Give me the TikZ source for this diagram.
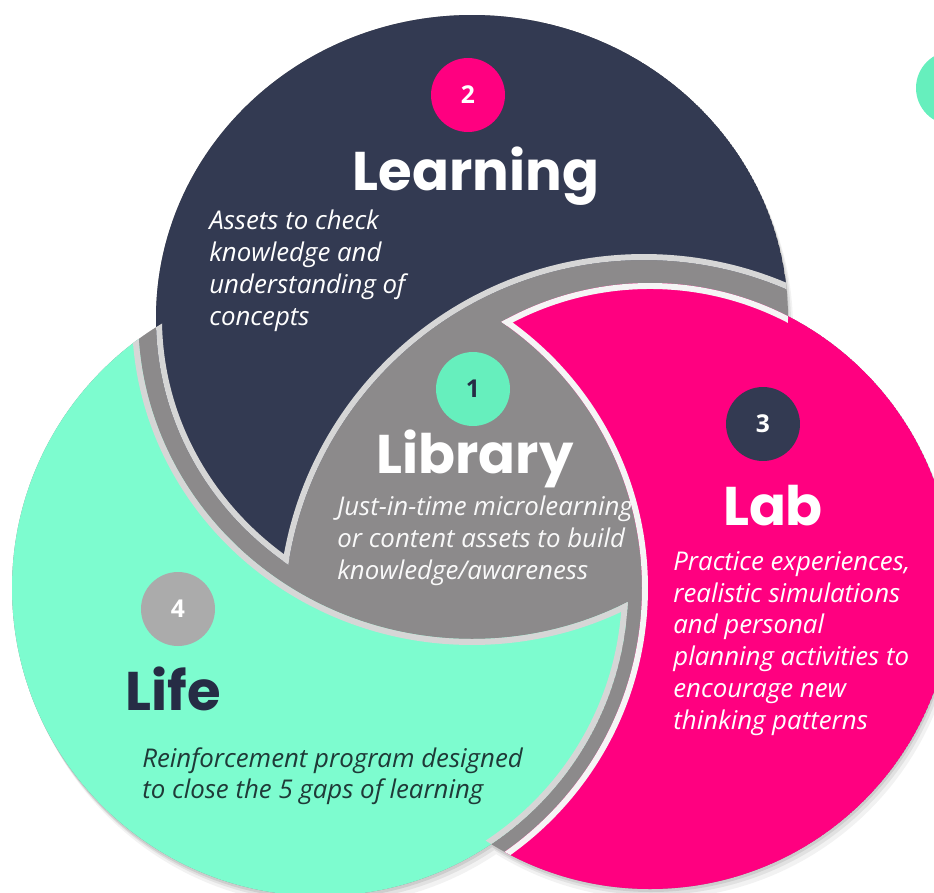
\documentclass[tikz,border=0pt]{standalone}
\usepackage{fontspec}
\setmainfont{Open Sans}
\newfontfamily\titlefont{Poppins}

\definecolor{navy}{HTML}{333A52}
\definecolor{hotpink}{HTML}{FF0080}
\definecolor{mint}{HTML}{7DFCCF}
\definecolor{mintdark}{HTML}{66EFBD}
\definecolor{libgray}{HTML}{8C8A8B}
\definecolor{rimgray}{HTML}{D6D6D6}
\definecolor{badgegray}{HTML}{ABABAB}
\definecolor{inkdark}{HTML}{262C45}
\definecolor{inkteal}{HTML}{1F3A38}

% the three big discs, grown by #1 for the gaps
\newcommand{\navyring}[1]{(472,318) ellipse [x radius=316+#1, y radius=303+#1]}
\newcommand{\pinkring}[1]{(650,586) circle [radius=303+#1]}
\newcommand{\mintring}[1]{(320,588) circle [radius=308+#1]}
% the arc that bites into the navy part
\newcommand{\navycut}{(644,620) circle [radius=360]}

\begin{document}
\begin{tikzpicture}[x=0.02cm, y=-0.02cm,
    rim/.style={draw=rimgray, line width=6.8pt},
    badge/.style={circle, minimum size=1.48cm, inner sep=0pt,
      font=\bfseries\fontsize{14}{14}\selectfont},
    title/.style={font=\titlefont\bfseries\fontsize{31}{31}\selectfont,
      inner sep=0pt, anchor=base},
    desc/.style={font=\itshape\fontsize{14.7}{18.1}\selectfont,
      align=left, anchor=north west, inner sep=0pt}]
  \useasboundingbox (0,0) rectangle (934,893);
  \clip (0,0) rectangle (934,893);

  % soft shadow under the whole wheel
  \fill[black, fill opacity=0.05, shift={(5,10)}] \navyring{0} \pinkring{0} \mintring{0};
  \fill[black, fill opacity=0.07, shift={(3,6)}] \navyring{0} \pinkring{0} \mintring{0};
  \fill[black, fill opacity=0.09, shift={(1,3)}] \navyring{0} \pinkring{0} \mintring{0};

  % grey centre and the channels between the parts
  \fill[libgray] \navyring{0} \pinkring{0} \mintring{0};

  % Learning: navy disc minus the cut
  \begin{scope}[even odd rule]
    \clip (-100,-100) rectangle (1100,1000) \navycut;
    \clip \navyring{0};
    \fill[navy] \navyring{0};
    \draw[rim] \navycut;
    \clip \mintring{0};
    \draw[rim] \navyring{0};
  \end{scope}

  % Lab: pink disc minus mint disc
  \begin{scope}[even odd rule]
    \clip (-100,-100) rectangle (1100,1000) \mintring{14};
    \clip \pinkring{0};
    \fill[hotpink] \pinkring{0};
    \draw[rim, draw=white!92!gray] \mintring{14};
    \clip \navyring{0};
    \draw[rim, draw=white!92!gray] \pinkring{0};
  \end{scope}

  % Life: mint disc minus navy disc
  \begin{scope}[even odd rule]
    \clip (-100,-100) rectangle (1100,1000) \navyring{18};
    \clip \mintring{0};
    \fill[mint] \mintring{0};
    \draw[rim] \navyring{18};
    \clip \pinkring{0};
    \draw[rim] \mintring{0};
  \end{scope}

  \node[badge, fill=mintdark] (corner) at (953,88) {};

  % Learning
  \node[badge, fill=hotpink, text=white] (two) at (468,95) {2};
  \node[title, text=white] (learning) at (476,190) {Learning};
  \node[desc, text=white] (learningtxt) at (209,210)
    {Assets to check\\ knowledge and\\ understanding of\\ concepts};

  % Library
  \node[badge, fill=mintdark, text=inkdark] (one) at (473,389) {1};
  \node[title, text=white] (library) at (475,473) {Library};
  \node[desc, text=white!95!gray] (librarytxt) at (337,496)
    {Just-in-time microlearning\\ or content assets to build\\ knowledge/awareness};

  % Lab
  \node[badge, fill=navy, text=white] (three) at (763,424) {3};
  \node[title, text=white] (lab) at (773,525) {Lab};
  \node[desc, text=white] (labtxt) at (673,551)
    {Practice experiences,\\ realistic simulations\\ and personal\\
     planning activities to\\ encourage new\\ thinking patterns};

  % Life
  \node[badge, fill=badgegray, text=white] (four) at (178,609) {4};
  \node[title, text=inkdark, anchor=base west] (life) at (125,710) {Life};
  \node[desc, text=inkteal] (lifetxt) at (142,747)
    {Reinforcement program designed\\ to close the 5 gaps of learning};
\end{tikzpicture}
\end{document}
